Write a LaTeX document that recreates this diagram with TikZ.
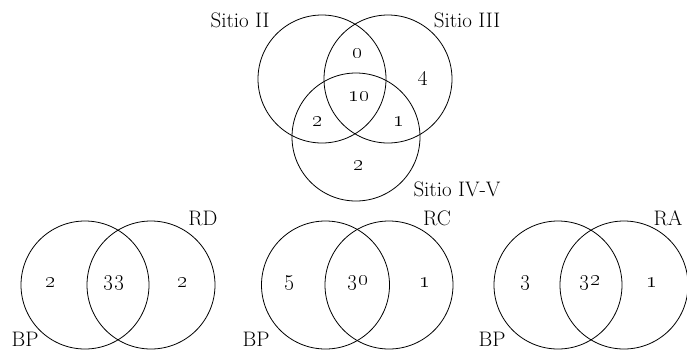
\RequirePackage{fix-cm}
\documentclass[tikz,border=0pt]{standalone}
\begin{document}
\begin{tikzpicture}[x=1pt,y=-1pt,
  venn/.style={circle,draw,line width=0.8pt,inner sep=0pt,minimum size=128pt},
  lab/.style={inner sep=0pt,font=\fontsize{21}{24}\selectfont},
  num/.style={inner sep=0pt,font=\fontsize{22}{24}\selectfont}]
\useasboundingbox (0,0) rectangle (687,349);
% top three-set diagram
\node[venn] (A) at (322,79) {};
\node[venn] (B) at (388,79) {};
\node[venn] (C) at (356,137) {};
\node[lab] (lA) at (240,20) {Sitio II};
\node[lab] (lB) at (467,20) {Sitio III};
\node[lab] (lC) at (457,189) {Sitio IV-V};
\node[num] (n0) at (358,54) {\oldstylenums{0}};
\node[num] (n4) at (423,79) {\oldstylenums{4}};
\node[num] (n10) at (359,97) {\oldstylenums{10}};
\node[num] (n2a) at (318,122) {\oldstylenums{2}};
\node[num] (n1) at (399,122) {\oldstylenums{1}};
\node[num] (n2b) at (359,166) {\oldstylenums{2}};
% bottom left
\node[venn] (P1) at (85,285) {};
\node[venn] (D) at (151,285) {};
\node[lab] (lD) at (203,218) {RD};
\node[lab] (lP1) at (25,339) {BP};
\node[num] at (51,283) {\oldstylenums{2}};
\node[num] at (114,283) {\oldstylenums{33}};
\node[num] at (183,283) {\oldstylenums{2}};
% bottom middle
\node[venn] (P2) at (325.5,285) {};
\node[venn] (RC) at (389,285) {};
\node[lab] (lRC) at (437,218) {RC};
\node[lab] (lP2) at (256,339) {BP};
\node[num] at (290,283) {\oldstylenums{5}};
\node[num] at (358,283) {\oldstylenums{30}};
\node[num] at (425,283) {\oldstylenums{1}};
% bottom right
\node[venn] (P3) at (558,285) {};
\node[venn] (RA) at (624,285) {};
\node[lab] (lRA) at (668,218) {RA};
\node[lab] (lP3) at (492,339) {BP};
\node[num] at (526,283) {\oldstylenums{3}};
\node[num] at (590,283) {\oldstylenums{32}};
\node[num] at (652,283) {\oldstylenums{1}};
\end{tikzpicture}
\end{document}
